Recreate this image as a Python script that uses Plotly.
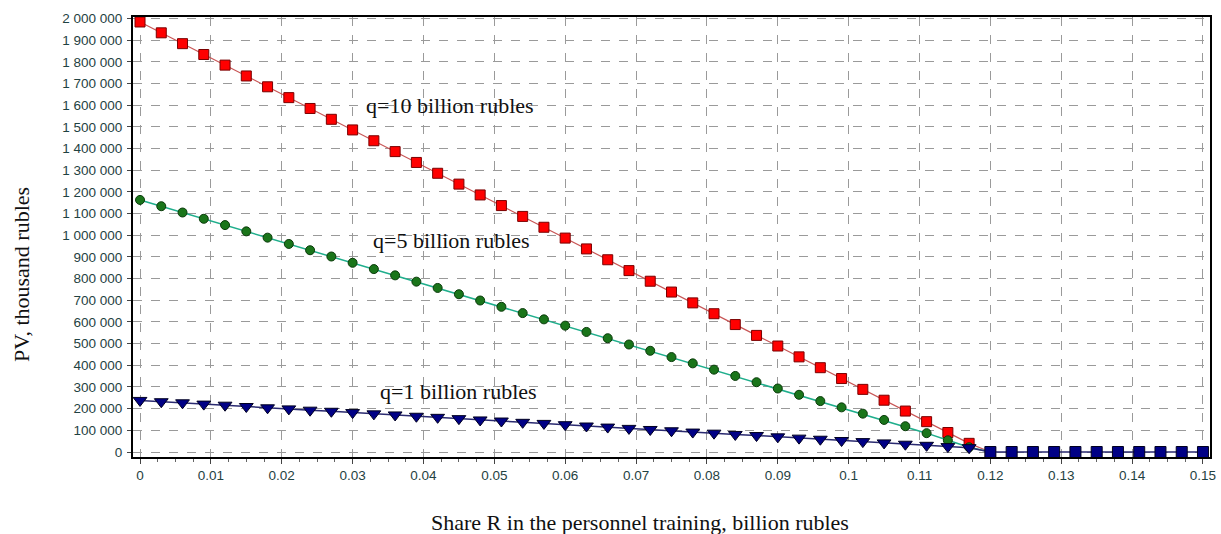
import plotly.graph_objects as go

# ---------------- data ----------------
share_r = [0.000, 0.003, 0.006, 0.009, 0.012, 0.015, 0.018, 0.021, 0.024, 0.027,
           0.030, 0.033, 0.036, 0.039, 0.042, 0.045, 0.048, 0.051, 0.054, 0.057,
           0.060, 0.063, 0.066, 0.069, 0.072, 0.075, 0.078, 0.081, 0.084, 0.087,
           0.090, 0.093, 0.096, 0.099, 0.102, 0.105, 0.108, 0.111, 0.114, 0.117,
           0.120, 0.123, 0.126, 0.129, 0.132, 0.135, 0.138, 0.141, 0.144, 0.147,
           0.150]

pv_q10 = [1984000, 1934000, 1884000, 1834000, 1785000, 1735000, 1685000, 1635000,
          1585000, 1535000, 1486000, 1436000, 1386000, 1336000, 1286000, 1236000,
          1186000, 1137000, 1087000, 1037000, 987000, 937000, 887000, 837000,
          788000, 738000, 688000, 638000, 588000, 538000, 489000, 439000,
          389000, 339000, 289000, 239000, 189000, 140000, 90000, 40000, 0]

pv_q5 = [1163000, 1134000, 1105000, 1076000, 1047000, 1018000, 989000, 960000,
         931000, 902000, 873000, 844000, 815000, 786000, 757000, 728000,
         699000, 670000, 641000, 612000, 583000, 554000, 525000, 496000,
         467000, 438000, 409000, 380000, 351000, 322000, 293000, 264000,
         235000, 206000, 177000, 148000, 119000, 87000, 54000, 22000, 0]

pv_q1 = [238000, 232000, 227000, 221000, 216000, 210000, 204000, 199000,
         193000, 188000, 182000, 176000, 171000, 165000, 160000, 154000,
         148000, 143000, 137000, 132000, 126000, 120000, 115000, 109000,
         104000, 98000, 92000, 87000, 81000, 76000, 70000, 64000,
         59000, 53000, 48000, 42000, 36000, 31000, 25000, 20000,
         0, 0, 0, 0, 0, 0, 0, 0, 0, 0, 0]

series_labels = ["q=10 billion rubles", "q=5 billion rubles", "q=1 billion rubles"]

x_title = "Share R in the personnel training, billion rubles"
y_title = "PV, thousand rubles"

# ---------------- figure ----------------
fig = go.Figure()

fig.add_trace(go.Scatter(
    x=share_r[:len(pv_q10)], y=pv_q10, mode="lines+markers",
    line=dict(color="#c85555", width=1.2),
    marker=dict(symbol="square", size=10, color="#ff0000", opacity=1,
                line=dict(color="#7a0000", width=1)),
    showlegend=False, name=series_labels[0]))

fig.add_trace(go.Scatter(
    x=share_r[:len(pv_q5)], y=pv_q5, mode="lines+markers",
    line=dict(color="#1fae8c", width=1.5),
    marker=dict(symbol="circle", size=9, color="#1a751a", opacity=1,
                line=dict(color="#0a3a0a", width=1)),
    showlegend=False, name=series_labels[1]))

q1_symbols = ["triangle-down" if v > 0 else "square" for v in pv_q1]
q1_sizes = [12 if v > 0 else 11 for v in pv_q1]
fig.add_trace(go.Scatter(
    x=share_r, y=pv_q1, mode="lines+markers",
    line=dict(color="#2a2a70", width=1.5),
    marker=dict(symbol=q1_symbols, size=q1_sizes, color="#000085", opacity=1,
                line=dict(color="#000020", width=1)),
    showlegend=False, name=series_labels[2]))

serif = "Liberation Serif, Times New Roman, serif"

annots = [
    dict(x=0.0437, y=1601000, text=series_labels[0]),
    dict(x=0.0440, y=977000, text=series_labels[1]),
    dict(x=0.0450, y=277000, text=series_labels[2]),
]
for a in annots:
    fig.add_annotation(x=a["x"], y=a["y"], xref="x", yref="y", text=a["text"],
                       xanchor="center", yanchor="middle",
                       showarrow=False, font=dict(family=serif, size=22, color="#111111"))

fig.add_annotation(x=0.471, y=-0.148, xref="paper", yref="paper", text=x_title,
                   xanchor="center", yanchor="middle",
                   showarrow=False, font=dict(family=serif, size=22, color="#111111"))
fig.add_annotation(x=-0.103, y=0.414, xref="paper", yref="paper", text=y_title,
                   xanchor="center", yanchor="middle",
                   textangle=-90, showarrow=False,
                   font=dict(family=serif, size=22, color="#111111"))

tick_font = dict(family="Liberation Sans, Arial, sans-serif", size=13.5, color="#1f4242")

fig.update_xaxes(
    range=[-0.00099, 0.15099], dtick=0.01, tick0=0, automargin=False,
    showgrid=True, gridcolor="#9a9a9a", griddash="dash", gridwidth=1,
    showline=True, linecolor="#000000", linewidth=2, mirror=True,
    ticks="outside", ticklen=5, tickcolor="#444444", ticklabeloverflow="allow",
    minor=dict(dtick=0.0025, ticks="outside", ticklen=3, tickcolor="#666666", showgrid=False),
    tickfont=tick_font, zeroline=False)

fig.update_yaxes(
    range=[-23000, 2007000], dtick=100000, tick0=0, tickformat=",d", automargin=False,
    showgrid=True, gridcolor="#9a9a9a", griddash="dash", gridwidth=1,
    showline=True, linecolor="#000000", linewidth=2, mirror=True,
    ticks="outside", ticklen=4, tickcolor="#444444", ticklabelstandoff=2,
    tickfont=tick_font, zeroline=False)

fig.update_layout(
    width=1221, height=534,
    margin=dict(l=133, r=11, t=17, b=77, autoexpand=False),
    paper_bgcolor="white", plot_bgcolor="white",
    separators=". ",
)

fig.write_html("out.html",
               config={"displayModeBar": False},
               post_script="document.body.style.margin='0';document.body.style.overflow='hidden';")
